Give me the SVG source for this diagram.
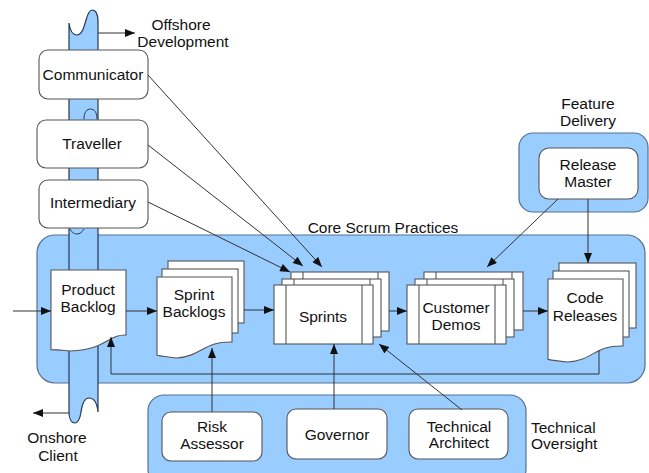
<svg xmlns="http://www.w3.org/2000/svg" width="649" height="473" viewBox="0 0 649 473">
<style>
text{font-family:"Liberation Sans",Arial,sans-serif;font-size:15.5px;fill:#111;text-anchor:middle}
.grp{fill:#99ccff;stroke:#56708e;stroke-width:1.2}
.box{fill:#fff;stroke:#555;stroke-width:1.1}
.pipe{fill:#99ccff;stroke:#26384f;stroke-width:1.2}
.con{fill:none;stroke:#333;stroke-width:1}
.arr{marker-end:url(#ah)}
</style>
<defs>
<marker id="ah" viewBox="0 0 10 8" refX="10" refY="4" markerWidth="11" markerHeight="8" markerUnits="userSpaceOnUse" orient="auto"><path d="M0,0 L10,4 L0,8 Z" fill="#111"/></marker>
</defs>

<g id="core-scrum-practices">
<rect class="grp" x="37" y="235" width="608" height="148" rx="18"/>
<text x="383" y="233">Core Scrum Practices</text>
</g>
<g id="feature-delivery">
<rect class="grp" x="519" y="133" width="129" height="79" rx="14"/>
<text x="588" y="109">Feature</text>
<text x="588" y="126">Delivery</text>
</g>
<g id="technical-oversight">
<rect class="grp" x="148" y="395" width="378" height="90" rx="16"/>
<text x="531" y="433" style="text-anchor:start">Technical</text>
<text x="531" y="449" style="text-anchor:start">Oversight</text>
</g>

<g id="pipe">
<path class="pipe" d="M69,23 C70,31 73,35 77,35 C82,35 84,27 86,20 C88,13 90,10 92,10 C96,10 98,15 98,22 V412 C97,402 93,398 89,398 C84,398 82,405 81,412 C80,420 77,423 75,423 C71,423 69,418 69,412 Z"/>
<path d="M84,119 C84,112 87,109 90.5,109 C94,109 97,112 97,119" fill="none" stroke="#26384f" stroke-width="1"/>
<path d="M70,229 C72,233 75,234 77,234 C80,234 82,232 84,229" fill="none" stroke="#26384f" stroke-width="1"/>
</g>

<g id="offshore-label"><text x="181" y="30">Offshore</text><text x="183" y="47">Development</text></g>
<g id="onshore-label"><text x="57" y="443">Onshore</text><text x="58" y="461">Client</text></g>

<g id="communicator"><rect class="box" x="39" y="50" width="109" height="49" rx="9"/><text x="93" y="80">Communicator</text></g>
<g id="traveller"><rect class="box" x="37" y="120" width="111" height="48" rx="9"/><text x="92" y="149">Traveller</text></g>
<g id="intermediary"><rect class="box" x="39" y="180" width="109" height="48" rx="9"/><text x="93" y="208">Intermediary</text></g>

<g id="release-master"><rect class="box" x="539" y="148" width="99" height="51" rx="10"/><text x="588" y="170">Release</text><text x="588" y="187">Master</text></g>

<g id="product-backlog">
<path class="box" d="M51,270 H126 V335 C107.4,334.4 107.9,349.1 70.5,351 C61.9,350.3 56.9,349.7 51,349.6 Z"/>
<text x="88" y="295">Product</text><text x="88" y="312">Backlog</text>
</g>

<g id="sprint-backlogs">
<rect class="box" x="168" y="261" width="76" height="62"/>
<rect class="box" x="162" y="269" width="76" height="64"/>
<path class="box" d="M157,277 H232 V342 C202.3,341.4 203.3,355.9 176.5,358 C167.4,357 162.9,356.5 157,355.3 Z"/>
<text x="194" y="300">Sprint</text><text x="194" y="317">Backlogs</text>
</g>

<g id="sprints">
<rect class="box" x="291" y="272" width="98" height="59"/>
<line class="box" x1="303" y1="272" x2="303" y2="331"/><line class="box" x1="378" y1="272" x2="378" y2="331"/>
<rect class="box" x="282" y="279" width="99" height="58"/>
<line class="box" x1="294" y1="279" x2="294" y2="337"/><line class="box" x1="370" y1="279" x2="370" y2="337"/>
<rect class="box" x="274" y="285" width="99" height="59"/>
<line class="box" x1="286" y1="285" x2="286" y2="344"/><line class="box" x1="362" y1="285" x2="362" y2="344"/>
<text x="323" y="322">Sprints</text>
</g>

<g id="customer-demos">
<rect class="box" x="424" y="272" width="99" height="58"/>
<line class="box" x1="436" y1="272" x2="436" y2="330"/><line class="box" x1="512" y1="272" x2="512" y2="330"/>
<rect class="box" x="415" y="279" width="99" height="58"/>
<line class="box" x1="427" y1="279" x2="427" y2="337"/><line class="box" x1="503" y1="279" x2="503" y2="337"/>
<rect class="box" x="407" y="285" width="99" height="59"/>
<line class="box" x1="419" y1="285" x2="419" y2="344"/><line class="box" x1="495" y1="285" x2="495" y2="344"/>
<text x="456" y="313">Customer</text><text x="456" y="330">Demos</text>
</g>

<g id="code-releases">
<rect class="box" x="559" y="263" width="77" height="65"/>
<rect class="box" x="553" y="271" width="76" height="66"/>
<path class="box" d="M548,279 H623 V346 C593.3,345.4 594.3,360.3 567.5,362 C558.4,361.1 553.9,360.6 548,359.4 Z"/>
<text x="585" y="303">Code</text><text x="585" y="321">Releases</text>
</g>

<g id="risk-assessor"><rect class="box" x="162" y="412" width="100" height="49" rx="9"/><text x="212" y="432">Risk</text><text x="212" y="449">Assessor</text></g>
<g id="governor"><rect class="box" x="287" y="409" width="100" height="50" rx="9"/><text x="337" y="440">Governor</text></g>
<g id="technical-architect"><rect class="box" x="409" y="409" width="99" height="50" rx="9"/><text x="459" y="432">Technical</text><text x="459" y="448">Architect</text></g>

<g id="connectors">
<path class="con arr" d="M98,33 H135"/>
<path class="con arr" d="M69,413 H33"/>
<path class="con arr" d="M13,311 H51"/>
<path class="con arr" d="M126,311 H157"/>
<path class="con arr" d="M244,310 H274"/>
<path class="con arr" d="M389,311 H407"/>
<path class="con arr" d="M523,311 H548"/>
<path class="con arr" d="M148,75 L322,267"/>
<path class="con arr" d="M148,145 L303,266"/>
<path class="con arr" d="M148,202 L290,272"/>
<path class="con arr" d="M558,199 L487,267"/>
<path class="con arr" d="M588,199 V263"/>
<path class="con arr" d="M212,412 V348"/>
<path class="con arr" d="M334,409 V344"/>
<path class="con arr" d="M462,410 L379,344"/>
<path class="con arr" d="M599,350 V374 H111 V337"/>
</g>
</svg>
